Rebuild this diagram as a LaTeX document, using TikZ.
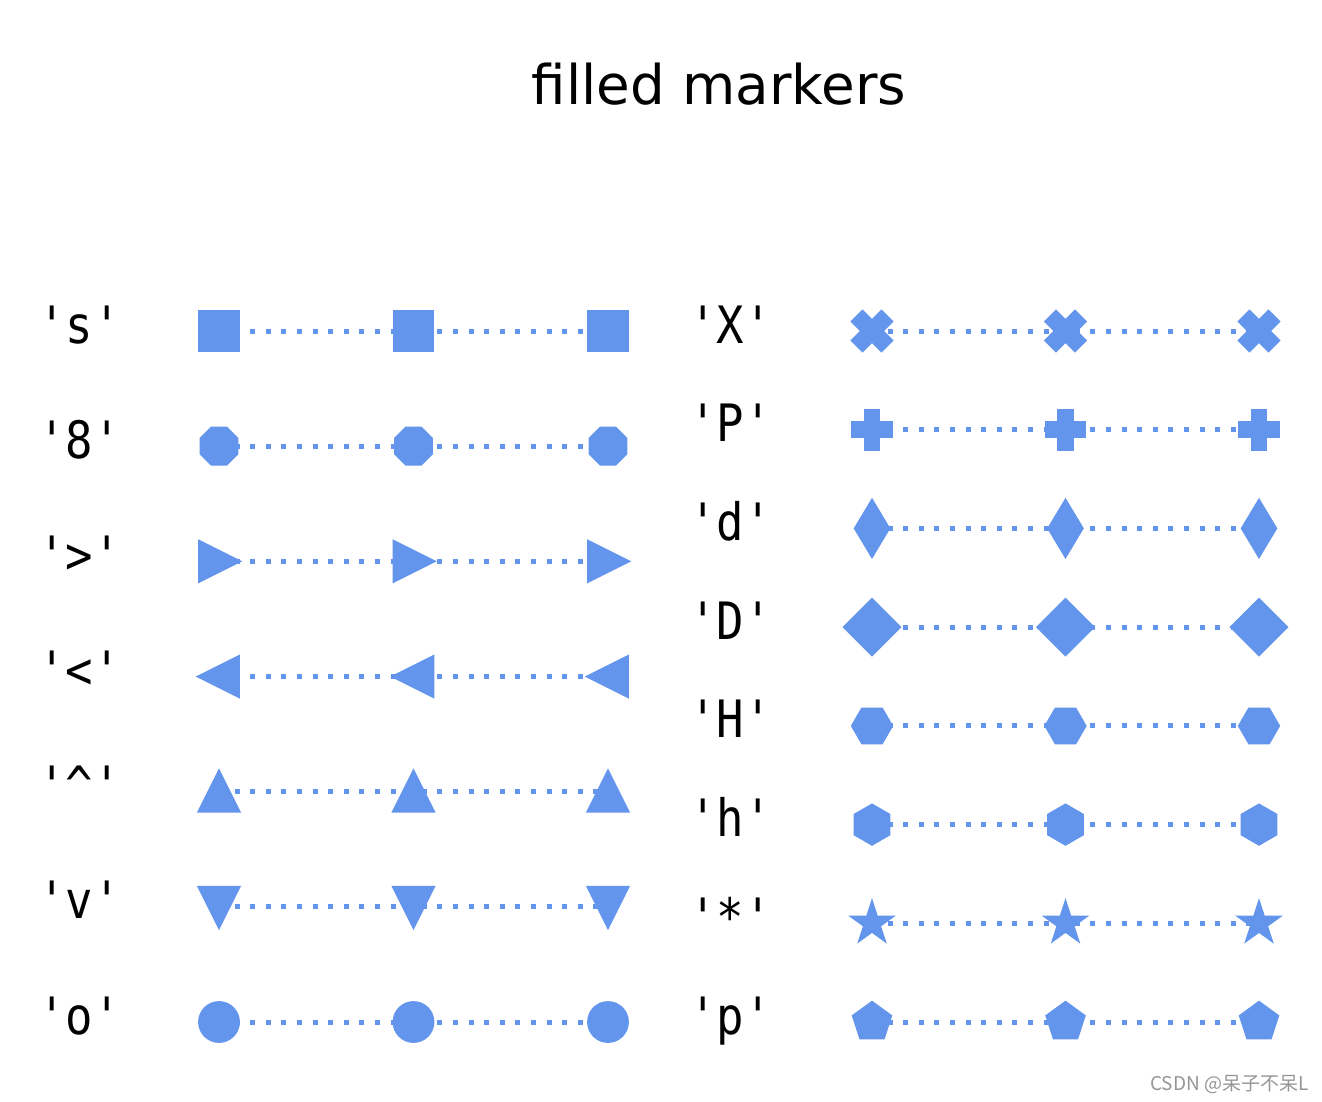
\documentclass[tikz,border=0pt]{standalone}
\usepackage{graphicx}
\usepackage{fontspec}
\setmainfont{DejaVu Sans}
\setmonofont{DejaVu Sans Mono}
\newfontfamily\cjkfont{Noto Sans CJK SC}
\definecolor{cfb}{HTML}{6495ED}
\definecolor{wmgray}{RGB}{150,150,150}
\tikzset{
  mk/.style={fill=cfb, draw=cfb, line width=3.8pt, line join=miter},
  conn/.style={draw=cfb, line width=5pt, dash pattern=on 5pt off 10.6pt, line cap=butt},
  lbl/.style={inner sep=0pt, anchor=base east, font=\ttfamily\fontsize{45.6}{50}\selectfont},
  pics/mks/.style={code={\path[mk] (-19,-19) rectangle (19,19);}},
  pics/mkeight/.style={code={\path[mk] (22.5:19) \foreach \a in {67.5,112.5,...,337.5} {-- (\a:19)} -- cycle;}},
  pics/mkright/.style={code={\path[mk] (19,0) -- (-19,19) -- (-19,-19) -- cycle;}},
  pics/mkleft/.style={code={\path[mk] (-19,0) -- (19,19) -- (19,-19) -- cycle;}},
  pics/mkup/.style={code={\path[mk] (0,19) -- (-19,-19) -- (19,-19) -- cycle;}},
  pics/mkdown/.style={code={\path[mk] (0,-19) -- (-19,19) -- (19,19) -- cycle;}},
  pics/mko/.style={code={\path[mk] (0,0) circle[radius=19];}},
  pics/mkX/.style={code={\path[mk] (-9.5,-19) -- (0,-9.5) -- (9.5,-19) -- (19,-9.5) -- (9.5,0) -- (19,9.5) -- (9.5,19) -- (0,9.5) -- (-9.5,19) -- (-19,9.5) -- (-9.5,0) -- (-19,-9.5) -- cycle;}},
  pics/mkP/.style={code={\path[mk] (-6.33,-19) -- (6.33,-19) -- (6.33,-6.33) -- (19,-6.33) -- (19,6.33) -- (6.33,6.33) -- (6.33,19) -- (-6.33,19) -- (-6.33,6.33) -- (-19,6.33) -- (-19,-6.33) -- (-6.33,-6.33) -- cycle;}},
  pics/mkd/.style={code={\path[mk] (0,26.87) -- (16.12,0) -- (0,-26.87) -- (-16.12,0) -- cycle;}},
  pics/mkD/.style={code={\path[mk] (0,26.87) -- (26.87,0) -- (0,-26.87) -- (-26.87,0) -- cycle;}},
  pics/mkH/.style={code={\path[mk] (0:19) \foreach \a in {60,120,...,300} {-- (\a:19)} -- cycle;}},
  pics/mkh/.style={code={\path[mk] (90:19) \foreach \a in {150,210,...,390} {-- (\a:19)} -- cycle;}},
  pics/mkstar/.style={code={\path[mk] (90:19) -- (126:7.257) -- (162:19) -- (198:7.257) -- (234:19) -- (270:7.257) -- (306:19) -- (342:7.257) -- (18:19) -- (54:7.257) -- cycle;}},
  pics/mkp/.style={code={\path[mk] (90:19) \foreach \a in {162,234,306,378} {-- (\a:19)} -- cycle;}},
}
\newcommand{\lbltext}[1]{\scalebox{1}[1.13]{#1}}
\begin{document}
\begin{tikzpicture}[x=1pt,y=1pt]
  \useasboundingbox (0,0) rectangle (1322,-1102);
  \fill[white] (0,0) rectangle (1322,-1102);

  % title
  \node[inner sep=0pt, anchor=base, font=\fontsize{54.7}{60}\selectfont] (title) at (719,-105) {filled markers};

  % left column coordinates
  \foreach \i/\y in {1/331,2/446.2,3/561.3,4/676.5,5/791.7,6/906.8,7/1022} {
    \coordinate (L\i a) at (219,-\y);
    \coordinate (L\i b) at (413.5,-\y);
    \coordinate (L\i c) at (608,-\y);
    \coordinate (L\i t) at (121,-\y-12);
  }
  % right column coordinates
  \foreach \i/\y in {1/331,2/429.7,3/528.4,4/627.1,5/725.9,6/824.6,7/923.3,8/1022} {
    \coordinate (R\i a) at (872,-\y);
    \coordinate (R\i b) at (1065.5,-\y);
    \coordinate (R\i c) at (1259,-\y);
    \coordinate (R\i t) at (772,-\y-12);
  }

  % dotted connectors
  \foreach \i in {1,...,7} { \draw[conn] (L\i a) -- (L\i b) -- (L\i c); }
  \foreach \i in {1,...,8} { \draw[conn] (R\i a) -- (R\i b) -- (R\i c); }

  % markers
  \foreach \i/\m in {1/mks,2/mkeight,3/mkright,4/mkleft,5/mkup,6/mkdown,7/mko} {
    \foreach \p in {a,b,c} { \pic at (L\i\p) {\m}; }
  }
  \foreach \i/\m in {1/mkX,2/mkP,3/mkd,4/mkD,5/mkH,6/mkh,7/mkstar,8/mkp} {
    \foreach \p in {a,b,c} { \pic at (R\i\p) {\m}; }
  }

  % labels
  \node[lbl] (lblL1) at (L1t) {\lbltext{'s'}};
  \node[lbl] (lblL2) at (L2t) {\lbltext{'8'}};
  \node[lbl] (lblL3) at (L3t) {\lbltext{'>'}};
  \node[lbl] (lblL4) at (L4t) {\lbltext{'<'}};
  \node[lbl] (lblL5) at (L5t) {\lbltext{'\textasciicircum'}};
  \node[lbl] (lblL6) at (L6t) {\lbltext{'v'}};
  \node[lbl] (lblL7) at (L7t) {\lbltext{'o'}};
  \node[lbl] (lblR1) at (R1t) {\lbltext{'X'}};
  \node[lbl] (lblR2) at (R2t) {\lbltext{'P'}};
  \node[lbl] (lblR3) at (R3t) {\lbltext{'d'}};
  \node[lbl] (lblR4) at (R4t) {\lbltext{'D'}};
  \node[lbl] (lblR5) at (R5t) {\lbltext{'H'}};
  \node[lbl] (lblR6) at (R6t) {\lbltext{'h'}};
  \node[lbl] (lblR7) at (R7t) {\lbltext{'*'}};
  \node[lbl] (lblR8) at (R8t) {\lbltext{'p'}};

  % watermark
  \node[inner sep=0pt, anchor=base west, text=wmgray, font=\cjkfont\fontsize{19}{22}\selectfont] (wm) at (1150,-1090) {CSDN @呆子不呆L};
\end{tikzpicture}
\end{document}
